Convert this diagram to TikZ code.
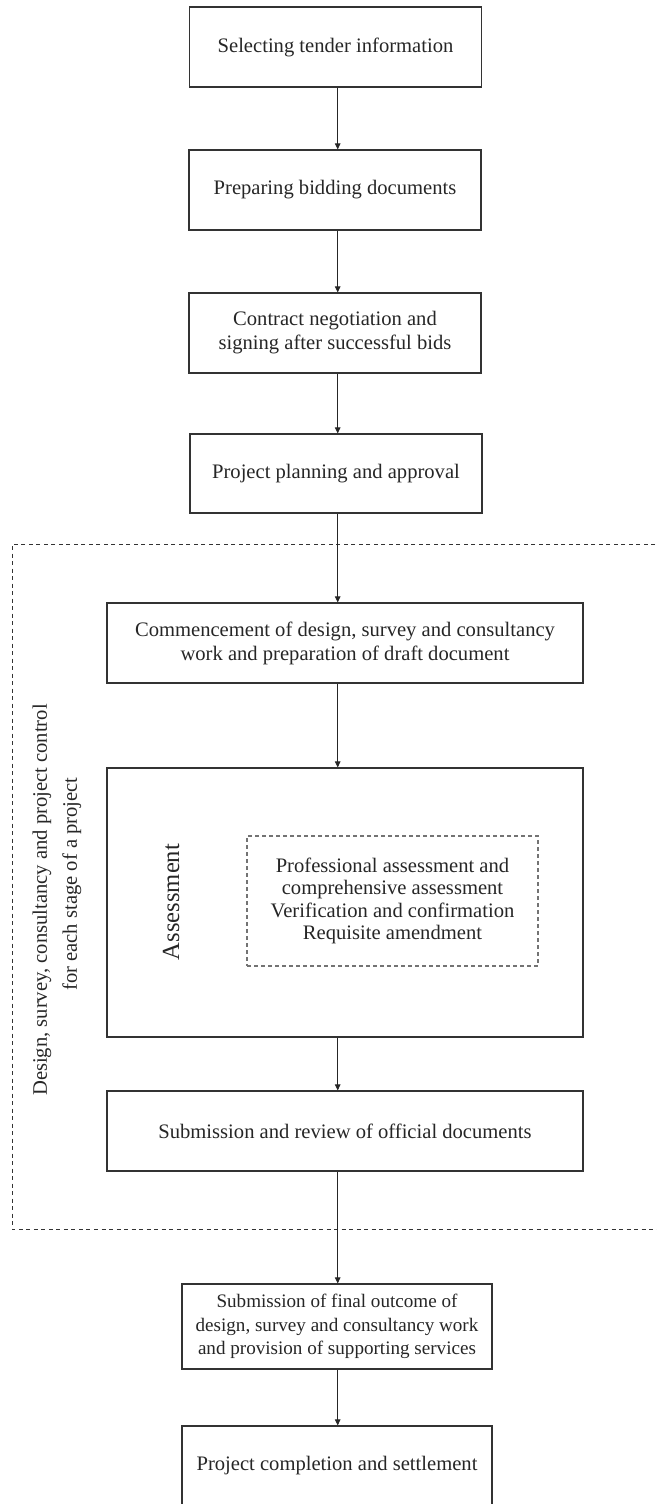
\documentclass[tikz,border=0pt]{standalone}
\usepackage{fontspec}
\setmainfont{Liberation Serif}
\usetikzlibrary{arrows.meta}
\begin{document}
\begin{tikzpicture}[x=1pt,y=-1pt,
  every node/.style={font=\fontsize{20.6}{24}\selectfont, text=black!85, inner sep=0pt},
  stepbox/.style={draw=black!80, line width=1.1pt, minimum width=292pt, minimum height=80pt, align=center},
  widebox/.style={stepbox, minimum width=476pt},
  flow/.style={draw=black!85, line width=0.9pt, -{Triangle[width=5.5pt,length=6pt]}},
  outerdash/.style={draw=black!80, line width=0.9pt, dash pattern=on 4pt off 3.5pt},
  innerdash/.style={draw=black!55, line width=1.1pt, dash pattern=on 4pt off 3pt}]
\useasboundingbox (0,0) rectangle (656,1504);
\coordinate (ax) at (337.7,0);
% outer dashed frame
\draw[outerdash] (670,544) -- (12,544) -- (12,1229) -- (670,1229);
\node[stepbox] (b1) at (335.5,47) {Selecting tender information};
\node[stepbox] (b2) at (335,190) {Preparing bidding documents};
\node[stepbox] (b3) at (335,333) {Contract negotiation and\\signing after successful bids};
\node[stepbox, minimum height=79pt] (b4) at (336,473.5) {Project planning and approval};
\node[widebox] (b5) at (345,643) {Commencement of design, survey and consultancy\\work and preparation of draft document};
\node[widebox, minimum height=269pt] (as) at (345,902.5) {};
\node[rotate=90, font=\fontsize{24.6}{28}\selectfont] (asl) at (171,902) {Assessment};
\node[innerdash, minimum width=291pt, minimum height=130pt, align=center, font=\fontsize{20.6}{22.5}\selectfont] (in) at (392.5,901) {Professional assessment and\\comprehensive assessment\\Verification and confirmation\\Requisite amendment};
\node[widebox] (b6) at (345,1131) {Submission and review of official documents};
\node[stepbox, minimum width=310pt, minimum height=85pt, font=\fontsize{19.1}{23.5}\selectfont] (b7) at (337,1326.5) {Submission of final outcome of\\design, survey and consultancy work\\and provision of supporting services};
\node[stepbox, minimum width=310pt, minimum height=80pt] (b8) at (337,1466) {Project completion and settlement};
\node[rotate=90, align=center, font=\fontsize{20.6}{30}\selectfont] (side) at (57,900) {Design, survey, consultancy and project control\\\hspace*{32pt}for each stage of a project};
\draw[flow] (b1.south -| ax) -- (b2.north -| ax);
\draw[flow] (b2.south -| ax) -- (b3.north -| ax);
\draw[flow] (b3.south -| ax) -- (b4.north -| ax);
\draw[flow] (b4.south -| ax) -- (b5.north -| ax);
\draw[flow] (b5.south -| ax) -- (as.north -| ax);
\draw[flow] (as.south -| ax) -- (b6.north -| ax);
\draw[flow] (b6.south -| ax) -- (b7.north -| ax);
\draw[flow] (b7.south -| ax) -- (b8.north -| ax);
\end{tikzpicture}
\end{document}
